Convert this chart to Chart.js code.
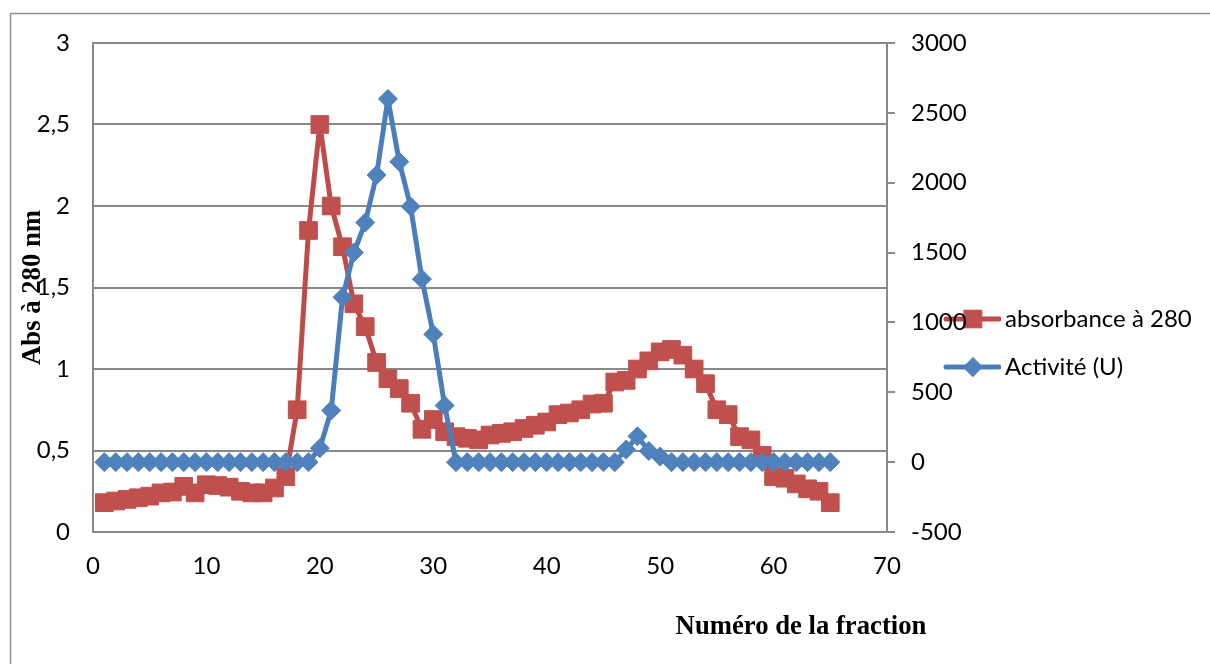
<!DOCTYPE html>
<html lang="fr">
<head>
<meta charset="utf-8">
<title>Absorbance à 280 nm et activité par fraction</title>
<script src="https://cdn.jsdelivr.net/npm/chart.js@4.4.1/dist/chart.umd.min.js"></script>
<style>
  html, body { margin: 0; padding: 0; background: #fff; }
  #wrap { width: 1210px; height: 664px; }
</style>
</head>
<body>
<div id="wrap"><canvas id="elution" width="1210" height="664"></canvas></div>
<script>
// fraction numbers (x)
const fractions = [
   1,  2,  3,  4,  5,  6,  7,  8,  9, 10, 11, 12, 13, 14, 15, 16, 17, 18, 19, 20,
  21, 22, 23, 24, 25, 26, 27, 28, 29, 30, 31, 32, 33, 34, 35, 36, 37, 38, 39, 40,
  41, 42, 43, 44, 45, 46, 47, 48, 49, 50, 51, 52, 53, 54, 55, 56, 57, 58, 59, 60,
  61, 62, 63, 64, 65
];

// absorbance at 280 nm, left axis
const absorbance = [
  0.18, 0.19, 0.20, 0.21, 0.22, 0.24, 0.245, 0.28, 0.24, 0.29,
  0.285, 0.275, 0.25, 0.24, 0.24, 0.27, 0.34, 0.75, 1.85, 2.50,
  2.00, 1.75, 1.40, 1.26, 1.04, 0.94, 0.88, 0.79, 0.63, 0.69,
  0.615, 0.585, 0.575, 0.565, 0.595, 0.605, 0.615, 0.635, 0.655, 0.675,
  0.72, 0.73, 0.75, 0.785, 0.79, 0.92, 0.93, 1.00, 1.05, 1.105,
  1.12, 1.085, 1.00, 0.91, 0.75, 0.72, 0.585, 0.565, 0.47, 0.34,
  0.33, 0.295, 0.265, 0.25, 0.18
];

// enzyme activity (U), right axis
const activite = [
  0, 0, 0, 0, 0, 0, 0, 0, 0, 0,
  0, 0, 0, 0, 0, 0, 0, 0, 0, 100,
  370, 1180, 1500, 1715, 2055, 2600, 2150, 1830, 1310, 915,
  405, 0, 0, 0, 0, 0, 0, 0, 0, 0,
  0, 0, 0, 0, 0, 0, 90, 185, 80, 40,
  0, 0, 0, 0, 0, 0, 0, 0, 0, 0,
  0, 0, 0, 0, 0
];

// tick values
const xTicks = [0, 10, 20, 30, 40, 50, 60, 70];
const absTicks = [0, 0.5, 1, 1.5, 2, 2.5, 3];
const actTicks = [-500, 0, 500, 1000, 1500, 2000, 2500, 3000];

const RED_LINE = '#BE4B48', RED_MARK = '#C0504D';
const BLUE_LINE = '#4A7EBB', BLUE_MARK = '#4F81BD';
const GRID = '#898989';

Chart.defaults.font.family = 'Lato';
Chart.defaults.font.size = 24;
Chart.defaults.color = '#000';

// small line + marker picture used as legend symbol
function legendIcon(lineColor, markColor, style, radius) {
  const c = document.createElement('canvas');
  c.width = 64; c.height = 24;
  const g = c.getContext('2d');
  g.strokeStyle = lineColor;
  g.lineWidth = 5;
  g.lineCap = 'round';
  g.beginPath(); g.moveTo(9, 12); g.lineTo(62, 12); g.stroke();
  g.fillStyle = markColor;
  g.strokeStyle = markColor;
  g.lineWidth = 1;
  Chart.helpers.drawPoint(g, { pointStyle: style, radius: radius, borderWidth: 1, rotation: 0 }, 36, 12);
  return c;
}
const legendIcons = [
  legendIcon(RED_LINE, RED_MARK, 'rect', 12.5),
  legendIcon(BLUE_LINE, BLUE_MARK, 'rectRot', 9.5)
];

const useTicks = (values) => (scale) => { scale.ticks = values.map(v => ({ value: v })); };

// thin frame around the whole figure
const figureFrame = {
  id: 'figureFrame',
  beforeDraw(chart) {
    const ctx = chart.ctx;
    ctx.save();
    ctx.strokeStyle = '#8f8f8f';
    ctx.lineWidth = 1.5;
    ctx.strokeRect(10.5, 13.5, chart.width + 20, chart.height + 20);
    ctx.restore();
  }
};

// legend sits to the right of the plot, over the right axis labels
const legendPlacement = {
  id: 'legendPlacement',
  afterLayout(chart) {
    const lg = chart.legend;
    if (!lg) return;
    const pad = lg.options.labels.padding;
    const area = chart.chartArea;
    lg.left = area.right + 58 - pad;
    lg.top = area.top + 276 - pad - 12;
    lg.right = lg.left + lg.width;
    lg.bottom = lg.top + lg.height;
  }
};

// x axis caption, placed toward the right under the axis
const fractionCaption = {
  id: 'fractionCaption',
  afterDraw(chart) {
    const { ctx, chartArea } = chart;
    ctx.save();
    ctx.font = 'bold 26.7px "Liberation Serif"';
    ctx.fillStyle = '#000';
    ctx.textAlign = 'center';
    ctx.textBaseline = 'middle';
    ctx.fillText('Numéro de la fraction', chartArea.right - 86, chartArea.bottom + 95);
    ctx.restore();
  }
};

new Chart(document.getElementById('elution'), {
  type: 'line',
  data: {
    datasets: [
      {
        label: 'absorbance à 280',
        data: fractions.map((f, i) => ({ x: f, y: absorbance[i] })),
        yAxisID: 'y',
        order: 1,
        borderColor: RED_LINE,
        backgroundColor: RED_MARK,
        borderWidth: 5,
        borderJoinStyle: 'round',
        borderCapStyle: 'round',
        pointStyle: 'rect',
        pointRadius: 12.5,
        pointBorderWidth: 1,
        pointBackgroundColor: RED_MARK,
        pointBorderColor: RED_MARK,
        tension: 0
      },
      {
        label: 'Activité (U)',
        data: fractions.map((f, i) => ({ x: f, y: activite[i] })),
        yAxisID: 'y1',
        order: 0,
        borderColor: BLUE_LINE,
        backgroundColor: BLUE_MARK,
        borderWidth: 5,
        borderJoinStyle: 'round',
        borderCapStyle: 'round',
        pointStyle: 'rectRot',
        pointRadius: 9.5,
        pointBorderWidth: 1,
        pointBackgroundColor: BLUE_MARK,
        pointBorderColor: BLUE_MARK,
        tension: 0
      }
    ]
  },
  options: {
    responsive: false,
    animation: false,
    devicePixelRatio: 1,
    layout: { padding: { top: 43, left: 0, right: 0, bottom: 0 } },
    plugins: {
      tooltip: { enabled: false },
      legend: {
        position: 'chartArea',
        align: 'start',
        labels: {
          usePointStyle: true,
          pointStyleWidth: 48,
          padding: 24,
          color: '#000',
          font: { size: 24 },
          generateLabels(chart) {
            const items = Chart.defaults.plugins.legend.labels.generateLabels(chart);
            items.sort((a, b) => a.datasetIndex - b.datasetIndex);
            items.forEach(it => { it.pointStyle = legendIcons[it.datasetIndex]; });
            return items;
          }
        }
      }
    },
    scales: {
      x: {
        type: 'linear',
        min: 0,
        max: 70,
        afterBuildTicks: useTicks(xTicks),
        afterFit(scale) { scale.height = 132; },
        grid: { display: false, drawTicks: false },
        border: { display: true, color: GRID, width: 2 },
        ticks: { padding: 20, maxRotation: 0 }
      },
      y: {
        type: 'linear',
        position: 'left',
        min: 0,
        max: 3,
        afterBuildTicks: useTicks(absTicks),
        afterFit(scale) { scale.width = 93; },
        grid: { color: GRID, lineWidth: 2, drawTicks: false },
        border: { display: true, color: GRID, width: 2 },
        ticks: {
          padding: 23,
          callback: v => String(v).replace('.', ',')
        },
        title: {
          display: true,
          text: 'Abs à 280 nm',
          color: '#000',
          font: { family: 'Liberation Serif', size: 26.7, weight: 'bold' },
          padding: { top: 17, bottom: 0 }
        }
      },
      y1: {
        type: 'linear',
        position: 'right',
        min: -500,
        max: 3000,
        afterBuildTicks: useTicks(actTicks),
        afterFit(scale) { scale.width = 323; },
        grid: { drawOnChartArea: false, color: GRID, lineWidth: 2, tickLength: 8 },
        border: { display: true, color: GRID, width: 2 },
        ticks: {
          padding: 16,
          callback: v => String(v)
        }
      }
    }
  },
  plugins: [figureFrame, legendPlacement, fractionCaption]
});
</script>
</body>
</html>
